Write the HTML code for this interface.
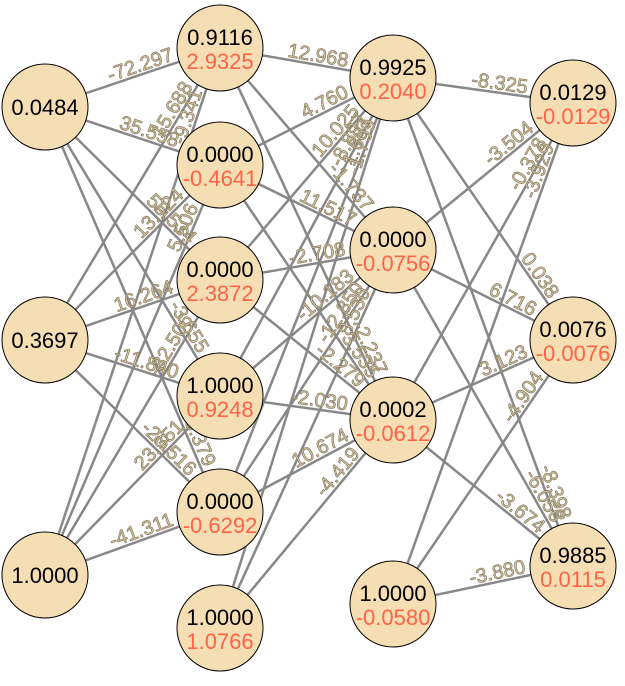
<!DOCTYPE html>
<html><head><meta charset="utf-8"><style>
html,body{margin:0;padding:0;background:#fff;}
svg{display:block;font-family:"Liberation Sans",Arial,sans-serif;}
.lb{font-size:20px;fill:#d9c7a0;stroke:#857a62;stroke-width:0.7;text-anchor:end;}
.nt{font-size:22px;text-anchor:middle;}
</style></head><body>
<svg id="s" width="625" height="686" viewBox="0 0 625 686">
<g id="edges" stroke="#888" stroke-width="2.5"></g>
<g id="labels">
<text class="lb e i0-h0">-72.297</text>
<text class="lb e i1-h0">15.688</text>
<text class="lb e i2-h0">-9.341</text>
<text class="lb e i0-h1">35.558</text>
<text class="lb e i1-h1">13.124</text>
<text class="lb e i2-h1">5.506</text>
<text class="lb e i0-h2">55.534</text>
<text class="lb e i1-h2">16.264</text>
<text class="lb e i2-h2">-32.506</text>
<text class="lb e i0-h3">-3.655</text>
<text class="lb e i1-h3">-11.840</text>
<text class="lb e i2-h3">23.351</text>
<text class="lb e i0-h4">68.379</text>
<text class="lb e i1-h4">-20.516</text>
<text class="lb e i2-h4">-41.311</text>
<text class="lb e h0-g0">12.968</text>
<text class="lb e h1-g0">4.760</text>
<text class="lb e h2-g0">10.025</text>
<text class="lb e h3-g0">-8.897</text>
<text class="lb e h4-g0">1.697</text>
<text class="lb e h5-g0">-1.799</text>
<text class="lb e h0-g1">-1.737</text>
<text class="lb e h1-g1">11.517</text>
<text class="lb e h2-g1">-2.708</text>
<text class="lb e h3-g1">-10.183</text>
<text class="lb e h4-g1">-12.850</text>
<text class="lb e h5-g1">8.530</text>
<text class="lb e h0-g2">-2.237</text>
<text class="lb e h1-g2">3.535</text>
<text class="lb e h2-g2">-2.279</text>
<text class="lb e h3-g2">-2.030</text>
<text class="lb e h4-g2">10.674</text>
<text class="lb e h5-g2">-4.419</text>
<text class="lb e g0-o0">-8.325</text>
<text class="lb e g1-o0">-3.504</text>
<text class="lb e g2-o0">-0.378</text>
<text class="lb e g3-o0">-3.929</text>
<text class="lb e g0-o1">0.038</text>
<text class="lb e g1-o1">6.716</text>
<text class="lb e g2-o1">3.123</text>
<text class="lb e g3-o1">-4.904</text>
<text class="lb e g0-o2">-8.398</text>
<text class="lb e g1-o2">-6.056</text>
<text class="lb e g2-o2">-3.674</text>
<text class="lb e g3-o2">-3.880</text>
</g>
<g id="nodes" fill="#f5deb3" stroke="#000" stroke-width="1">
<circle cx="45" cy="107" r="43"/><circle cx="45" cy="340" r="43"/><circle cx="45" cy="575" r="43"/>
<circle cx="220" cy="48" r="43"/><circle cx="220" cy="165" r="43"/><circle cx="220" cy="280" r="43"/>
<circle cx="220" cy="396" r="43"/><circle cx="220" cy="512" r="43"/><circle cx="220" cy="628" r="43"/>
<circle cx="393" cy="78" r="43"/><circle cx="393" cy="250" r="43"/><circle cx="393" cy="420" r="43"/><circle cx="393" cy="604" r="43"/>
<circle cx="573" cy="103" r="43"/><circle cx="573" cy="340" r="43"/><circle cx="573" cy="566" r="43"/>
</g>
<g>
<text x="45" y="115" class="nt">0.0484</text>
<text x="45" y="348" class="nt">0.3697</text>
<text x="45" y="583" class="nt">1.0000</text>
<text x="220" y="45" class="nt">0.9116</text><text x="220" y="69" class="nt" fill="#ff6347">2.9325</text>
<text x="220" y="162" class="nt">0.0000</text><text x="220" y="186" class="nt" fill="#ff6347">-0.4641</text>
<text x="220" y="277" class="nt">0.0000</text><text x="220" y="301" class="nt" fill="#ff6347">2.3872</text>
<text x="220" y="393" class="nt">1.0000</text><text x="220" y="417" class="nt" fill="#ff6347">0.9248</text>
<text x="220" y="509" class="nt">0.0000</text><text x="220" y="533" class="nt" fill="#ff6347">-0.6292</text>
<text x="220" y="625" class="nt">1.0000</text><text x="220" y="649" class="nt" fill="#ff6347">1.0766</text>
<text x="393" y="75" class="nt">0.9925</text><text x="393" y="99" class="nt" fill="#ff6347">0.2040</text>
<text x="393" y="247" class="nt">0.0000</text><text x="393" y="271" class="nt" fill="#ff6347">-0.0756</text>
<text x="393" y="417" class="nt">0.0002</text><text x="393" y="441" class="nt" fill="#ff6347">-0.0612</text>
<text x="393" y="601" class="nt">1.0000</text><text x="393" y="625" class="nt" fill="#ff6347">-0.0580</text>
<text x="573" y="100" class="nt">0.0129</text><text x="573" y="124" class="nt" fill="#ff6347">-0.0129</text>
<text x="573" y="337" class="nt">0.0076</text><text x="573" y="361" class="nt" fill="#ff6347">-0.0076</text>
<text x="573" y="563" class="nt">0.9885</text><text x="573" y="587" class="nt" fill="#ff6347">0.0115</text>
</g>
</svg>
<script>
var P={i0:[45,107],i1:[45,340],i2:[45,575],h0:[220,48],h1:[220,165],h2:[220,280],h3:[220,396],h4:[220,512],h5:[220,628],
g0:[393,78],g1:[393,250],g2:[393,420],g3:[393,604],o0:[573,103],o1:[573,340],o2:[573,566]};
var R=43,NS="http://www.w3.org/2000/svg",eg=document.getElementById("edges");
document.querySelectorAll("text.e").forEach(function(t){
  var k=t.getAttribute("class").split(" ")[2].split("-"),a=P[k[0]],b=P[k[1]];
  var l=document.createElementNS(NS,"line");
  l.setAttribute("x1",a[0]);l.setAttribute("y1",a[1]);l.setAttribute("x2",b[0]);l.setAttribute("y2",b[1]);
  eg.appendChild(l);
  var dx=b[0]-a[0],dy=b[1]-a[1],L=Math.sqrt(dx*dx+dy*dy),ux=dx/L,uy=dy/L,d=R+4;
  var px=b[0]-ux*d,py=b[1]-uy*d,ang=Math.atan2(dy,dx)*180/Math.PI;
  t.setAttribute("x",0);t.setAttribute("y",-3);
  t.setAttribute("transform","translate("+px.toFixed(1)+","+py.toFixed(1)+") rotate("+ang.toFixed(2)+")");
});
</script>
</body></html>
